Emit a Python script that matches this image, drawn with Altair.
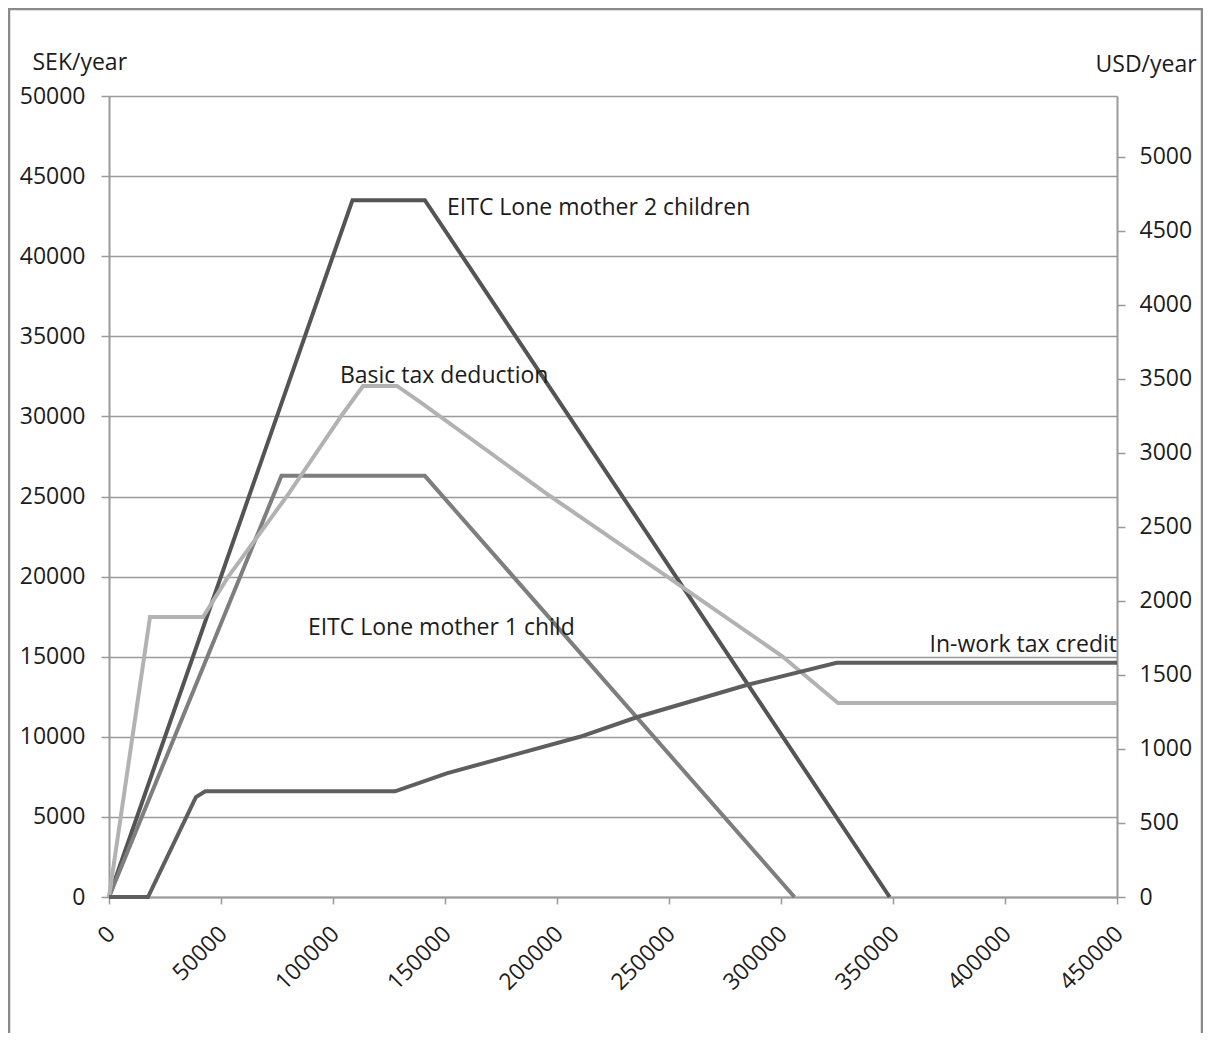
import altair as alt
import pandas as pd

# ---------------- data ----------------
x_ticks = [0, 50000, 100000, 150000, 200000, 250000, 300000, 350000, 400000, 450000]
sek_ticks = [0, 5000, 10000, 15000, 20000, 25000, 30000, 35000, 40000, 45000, 50000]
usd_ticks = [0, 500, 1000, 1500, 2000, 2500, 3000, 3500, 4000, 4500, 5000]
SEK_PER_USD = 9.24

series_names = [
    "EITC Lone mother 2 children",
    "EITC Lone mother 1 child",
    "Basic tax deduction",
    "In-work tax credit",
]
series_colors = ["#545454", "#7e7e7e", "#b2b2b2", "#5e5e5e"]

two_x = [0, 108700, 141000, 348500]
two_y = [0, 43500, 43500, 0]

one_x = [0, 77000, 141000, 306000]
one_y = [0, 26290, 26290, 0]

basic_x = [0, 18300, 41960, 53120, 79460, 104010, 113390, 128560, 138830,
           196860, 249540, 300430, 325430, 450000]
basic_y = [0, 17480, 17480, 19970, 25030, 30090, 31900, 31900, 30900,
           25030, 19970, 15040, 12110, 12110]

inwork_x = [0, 17400, 38800, 43000, 127700, 150750, 210250, 235560, 284670, 324850, 450000]
inwork_y = [0, 0, 6240, 6600, 6600, 7720, 10000, 11220, 13230, 14620, 14620]

label_text = ["EITC Lone mother 2 children", "Basic tax deduction",
              "EITC Lone mother 1 child", "In-work tax credit"]
label_x = [150900, 103100, 88800, 450000]
label_y = [43000, 32520, 16790, 15730]
label_align = ["left", "left", "left", "right"]

# ---------------- tables ----------------
rows = []
for name, xs, ys in zip(series_names, [two_x, one_x, basic_x, inwork_x],
                        [two_y, one_y, basic_y, inwork_y]):
    for i, (xv, yv) in enumerate(zip(xs, ys)):
        rows.append({"series": name, "x": xv, "y": yv, "order": i})
df = pd.DataFrame(rows)

labels_df = pd.DataFrame({"text": label_text, "x": label_x, "y": label_y,
                          "align": label_align})

FONT = "Open Sans"
AX = "#9a9a9a"
TXT = "#1c1c1c"

x_scale = alt.Scale(domain=[0, 450000], nice=False, zero=False)
sek_scale = alt.Scale(domain=[0, 50000], nice=False)
usd_scale = alt.Scale(domain=[0, 50000 / SEK_PER_USD], nice=False)

x_axis = alt.Axis(values=x_ticks, format="d", title=None, grid=False,
                  labelAngle=-45, labelAlign="right", labelBaseline="middle",
                  labelPadding=26, labelOffset=2, tickSize=7,
                  labelFont=FONT, labelFontSize=23, labelColor=TXT,
                  domainColor=AX, domainWidth=2, tickColor=AX, tickWidth=1.5)

sek_axis = alt.Axis(values=sek_ticks, format="d", orient="left",
                    grid=True, gridColor=AX, gridWidth=1.5,
                    domainColor=AX, domainWidth=2, tickColor=AX, tickWidth=1.5,
                    tickSize=8, labelPadding=16,
                    labelFont=FONT, labelFontSize=23, labelColor=TXT,
                    title="SEK/year", titleAngle=0, titleX=-77, titleY=-34,
                    titleAlign="left", titleBaseline="middle",
                    titleFont=FONT, titleFontSize=23, titleFontWeight="normal",
                    titleColor=TXT)

usd_axis = alt.Axis(values=usd_ticks, format="d", orient="right",
                    grid=False,
                    domainColor=AX, domainWidth=2, tickColor=AX, tickWidth=1.5,
                    tickSize=8, labelPadding=14,
                    labelFont=FONT, labelFontSize=23, labelColor=TXT,
                    title="USD/year", titleAngle=0, titleX=-22, titleY=-32,
                    titleAlign="left", titleBaseline="middle",
                    titleFont=FONT, titleFontSize=23, titleFontWeight="normal",
                    titleColor=TXT)

lines = alt.Chart(df).mark_line(strokeWidth=4, strokeJoin="miter").encode(
    x=alt.X("x:Q", scale=x_scale, axis=x_axis),
    y=alt.Y("y:Q", scale=sek_scale, axis=sek_axis),
    color=alt.Color("series:N", scale=alt.Scale(domain=series_names, range=series_colors),
                    legend=None),
    order="order:Q",
    detail="series:N",
)

texts_left = alt.Chart(labels_df).transform_filter(alt.datum.align == "left").mark_text(
    align="left", baseline="middle", font=FONT, fontSize=23, color=TXT
).encode(
    x=alt.X("x:Q", scale=x_scale, axis=x_axis),
    y=alt.Y("y:Q", scale=sek_scale, axis=sek_axis),
    text="text:N",
)

texts_right = alt.Chart(labels_df).transform_filter(alt.datum.align == "right").mark_text(
    align="right", baseline="middle", font=FONT, fontSize=23, color=TXT
).encode(
    x=alt.X("x:Q", scale=x_scale, axis=x_axis),
    y=alt.Y("y:Q", scale=sek_scale, axis=sek_axis),
    text="text:N",
)

usd_layer = alt.Chart(df).transform_calculate(
    usd=alt.datum.y / SEK_PER_USD
).mark_line(opacity=0).encode(
    x=alt.X("x:Q", scale=x_scale, axis=x_axis),
    y=alt.Y("usd:Q", scale=usd_scale, axis=usd_axis),
    detail="series:N",
)

frame = alt.Chart(alt.Data(values=[{"f": 1}])).mark_rect(
    fill=None, filled=False, stroke="#8a8a8a", strokeWidth=2.5
).encode(
    x=alt.value(-100), x2=alt.value(1093),
    y=alt.value(-87), y2=alt.value(1100),
)

sek_group = alt.layer(lines, texts_left, texts_right)

chart = alt.layer(sek_group, usd_layer, frame).resolve_scale(
    y="independent"
).properties(
    width=1008, height=801,
    autosize=alt.AutoSizeParams(type="none"),
    padding={"left": 101, "top": 88, "right": 86, "bottom": 136},
).configure_view(strokeWidth=0).configure(background="white")

chart.save("out.html", embed_options={"renderer": "svg", "actions": False})
